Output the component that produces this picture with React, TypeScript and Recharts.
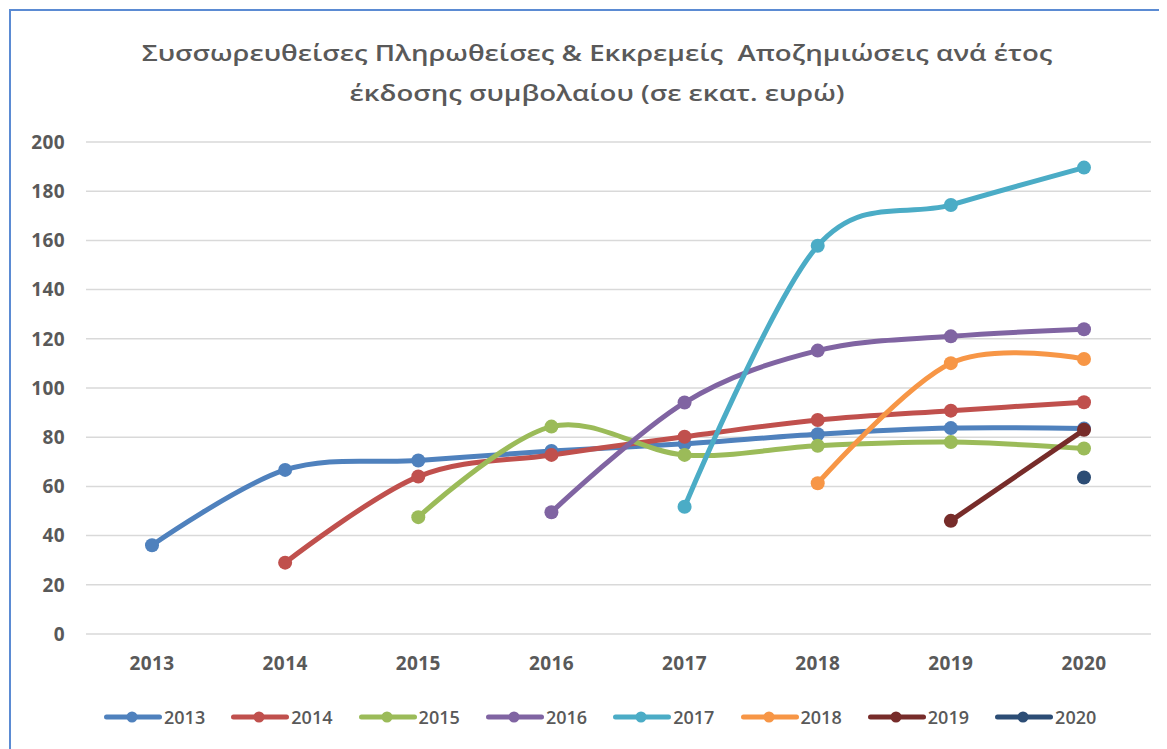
import React from 'react';
import { LineChart, Line, XAxis, YAxis, CartesianGrid, Legend } from 'recharts';

const years = ['2013', '2014', '2015', '2016', '2017', '2018', '2019', '2020'];
const seriesNames = ['2013', '2014', '2015', '2016', '2017', '2018', '2019', '2020'];
const colors = ['#4F81BD', '#C0504D', '#9BBB59', '#8064A2', '#4BACC6', '#F79646', '#772C2A', '#2C4D75'];

const s2013 = [36.1, 66.7, 70.5, 74.4, 77.3, 81.2, 83.7, 83.5];
const s2014 = [null, 29.0, 64.0, 72.8, 80.2, 87.0, 90.8, 94.2];
const s2015 = [null, null, 47.5, 84.3, 72.8, 76.5, 78.0, 75.4];
const s2016 = [null, null, null, 49.5, 94.1, 115.2, 121.0, 123.9];
const s2017 = [null, null, null, null, 51.7, 157.8, 174.4, 189.6];
const s2018 = [null, null, null, null, null, 61.3, 110.1, 111.8];
const s2019 = [null, null, null, null, null, null, 46.0, 83.0];
const s2020 = [null, null, null, null, null, null, null, 63.6];

const seriesValues = [s2013, s2014, s2015, s2016, s2017, s2018, s2019, s2020];
const yTicks = [0, 20, 40, 60, 80, 100, 120, 140, 160, 180, 200];

const titleLines = [
  'Συσσωρευθείσες Πληρωθείσες & Εκκρεμείς  Αποζημιώσεις ανά έτος',
  'έκδοσης συμβολαίου (σε εκατ. ευρώ)',
];

const data = years.map((y, i) => {
  const row: Record<string, any> = { year: y };
  seriesNames.forEach((n, j) => {
    row['s' + n] = seriesValues[j][i];
  });
  return row;
});

// Catmull-Rom style smoothing (cardinal, tension 0), similar to Excel smoothed lines
function cardinalCurve(context: any) {
  const k = 1 / 6;
  let x0 = NaN, x1 = NaN, x2 = NaN, y0 = NaN, y1 = NaN, y2 = NaN;
  let pt = 0;
  let line: number = NaN;
  const bez = (x: number, y: number) => {
    context.bezierCurveTo(
      x1 + k * (x2 - x0),
      y1 + k * (y2 - y0),
      x2 + k * (x1 - x),
      y2 + k * (y1 - y),
      x2,
      y2
    );
  };
  return {
    areaStart() { line = 0; },
    areaEnd() { line = NaN; },
    lineStart() { x0 = x1 = x2 = y0 = y1 = y2 = NaN; pt = 0; },
    lineEnd() {
      switch (pt) {
        case 2: context.lineTo(x2, y2); break;
        case 3: bez(x1, y1); break;
      }
      line = 1 - line;
    },
    point(x: number, y: number) {
      x = +x; y = +y;
      switch (pt) {
        case 0: pt = 1; line ? context.lineTo(x, y) : context.moveTo(x, y); break;
        case 1: pt = 2; x1 = x; y1 = y; break;
        case 2: pt = 3; bez(x, y); break;
        default: bez(x, y); break;
      }
      x0 = x1; x1 = x2; x2 = x;
      y0 = y1; y1 = y2; y2 = y;
    },
  };
}

const FONT = '"Open Sans", "DejaVu Sans", sans-serif';
const GRAY = '#595959';

const renderLegend = () => (
  <div style={{ position: 'relative', height: 30, width: 1150 }}>
    {seriesNames.map((n, i) => (
      <div
        key={n}
        style={{
          position: 'absolute',
          left: 92 + i * 127.3,
          top: 0,
          height: 30,
          display: 'flex',
          alignItems: 'center',
        }}
      >
        <svg width={60} height={14} style={{ display: 'block' }}>
          <line x1={3.5} y1={7} x2={56.5} y2={7} stroke={colors[i]} strokeWidth={5} strokeLinecap="round" />
          <circle cx={29} cy={7} r={5.5} fill={colors[i]} />
        </svg>
        <span style={{ fontFamily: FONT, fontWeight: 600, fontSize: 18, color: GRAY, marginLeft: 1 }}>{n}</span>
      </div>
    ))}
  </div>
);

const tickStyle = { fill: GRAY, fontSize: 19, fontWeight: 700, fontFamily: FONT, letterSpacing: 0.4 };

export default function App() {
  return (
    <div
      style={{
        position: 'relative',
        marginLeft: 1,
        marginTop: 1,
        width: 1160,
        height: 745,
        borderLeft: '2px solid #5B8BD3',
        borderTop: '2px solid #5B8BD3',
        background: '#fff',
        overflow: 'hidden',
      }}
    >
      {titleLines.map((t, i) => (
        <div
          key={i}
          style={{
            position: 'absolute',
            left: 0,
            top: 21 + i * 40,
            width: 1172,
            textAlign: 'center',
            fontFamily: FONT,
            fontWeight: 600,
            fontSize: 22,
            lineHeight: '40px',
            color: GRAY,
            whiteSpace: 'pre',
            transform: 'scaleX(1.255)',
            transformOrigin: '586px 20px',
          }}
        >
          {t}
        </div>
      ))}
      <div style={{ position: 'absolute', left: 0, top: 0 }}>
        <LineChart width={1150} height={730} data={data} margin={{ top: 131, right: 10, bottom: 47, left: 0 }}>
          <CartesianGrid vertical={false} stroke="#D9D9D9" strokeWidth={1.5} />
          <XAxis
            dataKey="year"
            axisLine={false}
            tickLine={false}
            tickSize={0}
            tickMargin={23}
            height={30}
            padding={{ left: 66, right: 67 }}
            tick={tickStyle}
          />
          <YAxis
            domain={[0, 200]}
            ticks={yTicks}
            axisLine={false}
            tickLine={false}
            tickSize={0}
            tickMargin={21}
            width={75}
            interval={0}
            tick={tickStyle}
          />
          <Legend verticalAlign="bottom" height={30} content={renderLegend} wrapperStyle={{ top: 691, left: 0 }} />
          {seriesNames.map((n, i) => (
            <Line
              key={n}
              dataKey={'s' + n}
              name={n}
              type={cardinalCurve as any}
              stroke={colors[i]}
              strokeWidth={5}
              dot={{ r: 7, fill: colors[i], stroke: colors[i], strokeWidth: 0 }}
              activeDot={false}
              connectNulls={false}
              isAnimationActive={false}
            />
          ))}
        </LineChart>
      </div>
    </div>
  );
}
